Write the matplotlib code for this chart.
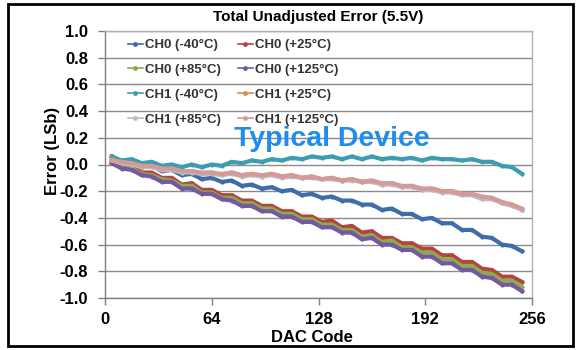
import matplotlib
matplotlib.use("Agg")
import matplotlib.pyplot as plt
from matplotlib.patches import Rectangle
from matplotlib.lines import Line2D

plt.rcParams['font.family'] = ['Liberation Sans', 'DejaVu Sans']
plt.rcParams['font.weight'] = 'bold'

dac_code = [4, 10, 16, 22, 28, 34, 40, 46, 52, 58, 64, 70, 76, 82, 88, 94, 100, 106, 112, 118,
            124, 130, 136, 142, 148, 154, 160, 166, 172, 178, 184, 190, 196, 202, 208, 214,
            220, 226, 232, 238, 244, 250]

ch0_m40 = [0.06, 0.02, 0.03, -0.02, -0.01, -0.05, -0.04, -0.08, -0.07, -0.11, -0.10, -0.13, -0.12,
           -0.16, -0.15, -0.18, -0.17, -0.20, -0.19, -0.23, -0.22, -0.25, -0.24, -0.27, -0.27, -0.30,
           -0.30, -0.34, -0.33, -0.37, -0.37, -0.41, -0.40, -0.44, -0.44, -0.49, -0.49, -0.54, -0.55,
           -0.60, -0.61, -0.65]
ch0_p25 = [0.03, -0.01, -0.01, -0.06, -0.06, -0.10, -0.10, -0.15, -0.14, -0.19, -0.19, -0.23, -0.23,
           -0.27, -0.27, -0.31, -0.31, -0.35, -0.35, -0.39, -0.39, -0.43, -0.42, -0.47, -0.46, -0.51,
           -0.50, -0.55, -0.55, -0.59, -0.59, -0.63, -0.63, -0.68, -0.68, -0.73, -0.73, -0.78, -0.79,
           -0.84, -0.84, -0.88]
ch0_p85 = [0.02, -0.02, -0.03, -0.07, -0.08, -0.11, -0.12, -0.16, -0.16, -0.21, -0.21, -0.25, -0.25,
           -0.29, -0.29, -0.33, -0.33, -0.37, -0.37, -0.41, -0.41, -0.45, -0.45, -0.49, -0.49, -0.54,
           -0.53, -0.58, -0.57, -0.62, -0.62, -0.66, -0.66, -0.71, -0.71, -0.76, -0.76, -0.81, -0.82,
           -0.87, -0.87, -0.92]
ch0_p125 = [0.01, -0.03, -0.04, -0.08, -0.09, -0.13, -0.13, -0.18, -0.18, -0.22, -0.22, -0.26, -0.27,
            -0.31, -0.31, -0.35, -0.35, -0.39, -0.39, -0.43, -0.43, -0.47, -0.47, -0.51, -0.51, -0.56,
            -0.55, -0.60, -0.60, -0.64, -0.64, -0.69, -0.69, -0.74, -0.74, -0.79, -0.79, -0.84, -0.85,
            -0.90, -0.90, -0.95]
ch1_m40 = [0.06, 0.03, 0.04, 0.01, 0.02, -0.01, 0.00, -0.02, 0.00, -0.02, 0.00, -0.01, 0.02, 0.01,
           0.03, 0.02, 0.04, 0.03, 0.05, 0.04, 0.06, 0.05, 0.06, 0.04, 0.06, 0.04, 0.06, 0.04, 0.05,
           0.04, 0.05, 0.03, 0.05, 0.04, 0.04, 0.03, 0.04, 0.02, 0.02, -0.01, -0.02, -0.07]
ch1_p25 = [0.04, 0.01, 0.01, -0.02, -0.01, -0.04, -0.03, -0.06, -0.05, -0.07, -0.06, -0.08, -0.06,
           -0.08, -0.07, -0.09, -0.07, -0.09, -0.08, -0.10, -0.09, -0.11, -0.10, -0.12, -0.11, -0.13,
           -0.12, -0.15, -0.14, -0.17, -0.16, -0.19, -0.18, -0.20, -0.20, -0.22, -0.22, -0.25, -0.25,
           -0.29, -0.30, -0.34]
ch1_p85 = [0.03, 0.01, 0.00, -0.02, -0.02, -0.04, -0.04, -0.06, -0.06, -0.07, -0.07, -0.08, -0.07,
           -0.09, -0.08, -0.09, -0.08, -0.10, -0.09, -0.10, -0.10, -0.11, -0.11, -0.12, -0.12, -0.13,
           -0.13, -0.15, -0.15, -0.17, -0.17, -0.19, -0.19, -0.21, -0.21, -0.23, -0.23, -0.26, -0.26,
           -0.29, -0.31, -0.34]
ch1_p125 = [0.03, 0.02, 0.01, -0.01, -0.01, -0.03, -0.03, -0.05, -0.05, -0.06, -0.06, -0.07, -0.06,
            -0.08, -0.07, -0.08, -0.07, -0.09, -0.08, -0.10, -0.09, -0.11, -0.10, -0.12, -0.11, -0.13,
            -0.12, -0.14, -0.14, -0.16, -0.16, -0.18, -0.18, -0.20, -0.20, -0.22, -0.22, -0.24, -0.25,
            -0.28, -0.30, -0.33]

series_names = ['CH0 (-40°C)', 'CH0 (+25°C)', 'CH0 (+85°C)', 'CH0 (+125°C)',
                'CH1 (-40°C)', 'CH1 (+25°C)', 'CH1 (+85°C)', 'CH1 (+125°C)']
series_values = [ch0_m40, ch0_p25, ch0_p85, ch0_p125, ch1_m40, ch1_p25, ch1_p85, ch1_p125]
series_colors = ['#3F6DAA', '#B5443F', '#8CAA4E', '#7459A0', '#3C9DB0', '#E08A45', '#B8BEC9', '#D49A98']

x_ticks = [0, 64, 128, 192, 256]
y_ticks = [-1.0, -0.8, -0.6, -0.4, -0.2, 0.0, 0.2, 0.4, 0.6, 0.8, 1.0]

fig = plt.figure(figsize=(5.81, 3.5), dpi=100)
ax = fig.add_axes([105/581, 1-298/350, 427/581, 267/350])

handles = []
for name, vals, col in zip(series_names, series_values, series_colors):
    ax.plot(dac_code, vals, color=col, lw=3.0, marker='o', ms=3, mew=0,
            solid_joinstyle='miter', zorder=3)
    handles.append(Line2D([0], [0], color=col, lw=1.2, marker='o', ms=3.5, mew=0))

ax.set_xlim(0, 256)
ax.set_ylim(-1.0, 1.0)
ax.set_xticks(x_ticks)
ax.set_yticks(y_ticks)
ax.set_xticklabels([str(v) for v in x_ticks])
ax.set_yticklabels(['%.1f' % v for v in y_ticks])
ax.yaxis.grid(True, color='#8A8A8A', lw=1.0, zorder=1)
ax.set_axisbelow(True)
for s in ['top', 'right']:
    ax.spines[s].set_color('#B0B0B0')
    ax.spines[s].set_linewidth(1.0)
for s in ['left', 'bottom']:
    ax.spines[s].set_color('#808080')
    ax.spines[s].set_linewidth(1.0)
ax.tick_params(axis='both', direction='out', width=1, color='#808080',
               labelsize=12, labelcolor='black')
ax.tick_params(axis='y', length=5, pad=7)
ax.tick_params(axis='x', length=5, pad=5)
for lab in ax.get_xticklabels() + ax.get_yticklabels():
    lab.set_fontweight('bold')

order = [0, 2, 4, 6, 1, 3, 5, 7]
leg = ax.legend([handles[i] for i in order], [series_names[i] for i in order],
                ncol=2, frameon=False, loc='upper left',
                bbox_to_anchor=(128/581, 1-39/350), bbox_transform=fig.transFigure,
                prop={'size': 9.5, 'weight': 'bold'}, handlelength=1.1, handletextpad=0.2,
                columnspacing=1.3, labelspacing=0.95, borderaxespad=0, borderpad=0)
for t in leg.get_texts():
    t.set_color('#333333')

fig.text(318/581, 1-17/350, 'Total Unadjusted Error (5.5V)', ha='center', va='center',
         fontsize=11, fontweight='bold')
fig.text(312/581, 1-337/350, 'DAC Code', ha='center', va='center',
         fontsize=12, fontweight='bold')
fig.text(53/581, 1-151/350, 'Error (LSb)', ha='center', va='center', rotation=90,
         fontsize=12, fontweight='bold')
fig.text(332/581, 1-146/350, 'Typical Device', ha='center', va='baseline',
         fontsize=20.5, fontweight='bold', color='#1E8CF0', zorder=10)

fig.patches.append(Rectangle((8/581, 4/350), 565/581, 342/350, transform=fig.transFigure,
                             fill=False, edgecolor='black', lw=2, zorder=20))

fig.savefig('out.png', dpi=100)
